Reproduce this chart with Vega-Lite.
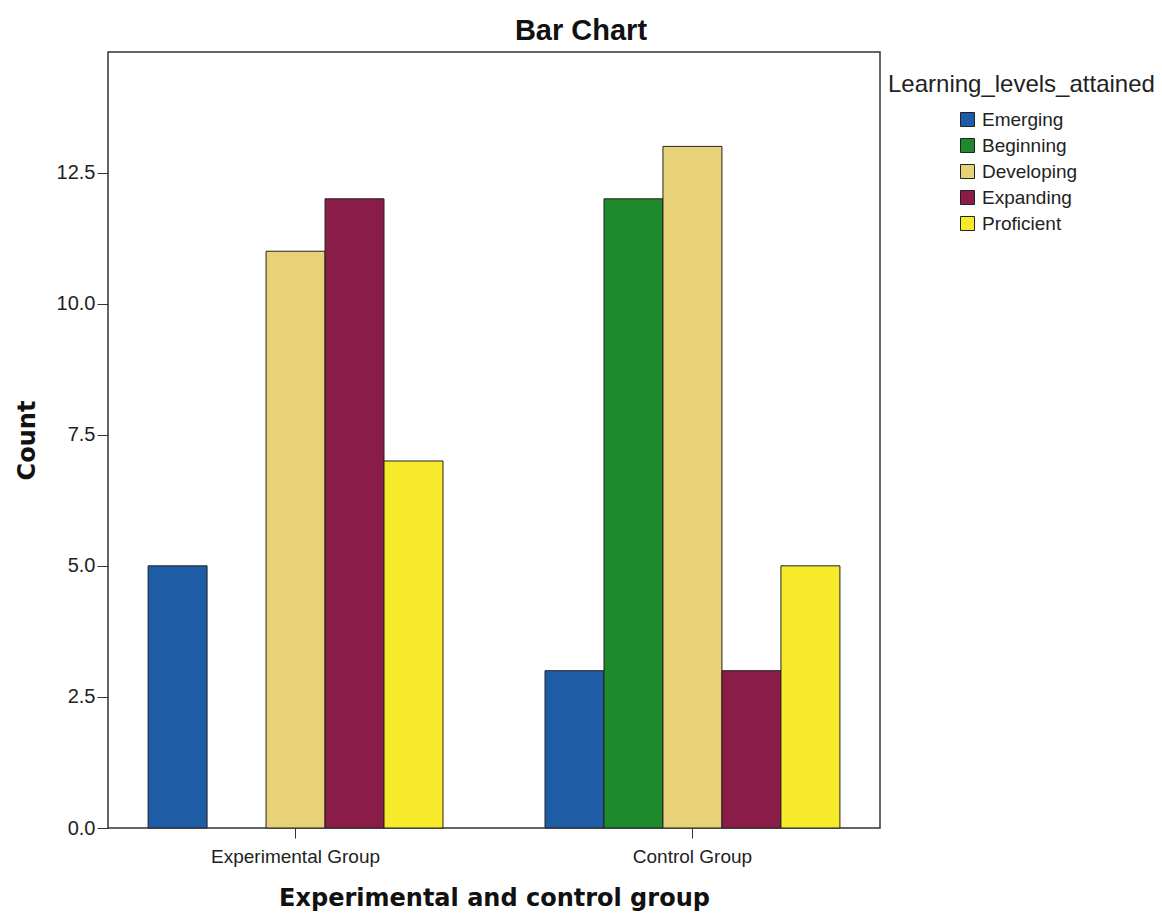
{
  "$schema": "https://vega.github.io/schema/vega-lite/v6.json",
  "width": 772,
  "height": 776,
  "autosize": {"type": "none"},
  "padding": {"left": 108, "top": 52, "right": 282, "bottom": 85},
  "background": "white",
  "config": {
    "font": "Liberation Sans",
    "view": {"stroke": "#333", "strokeWidth": 1.5},
    "axis": {"labelColor": "#222", "titleColor": "#111", "domainColor": "#333", "tickColor": "#333", "grid": false}
  },
  "title": {"text": "Bar Chart", "fontSize": 29, "fontWeight": "bold", "color": "#111", "offset": 6, "anchor": "middle", "dx": 87},
  "data": {
    "values": [
      {"group": "Experimental Group", "level": "Emerging", "count": 5},
      {"group": "Experimental Group", "level": "Developing", "count": 11},
      {"group": "Experimental Group", "level": "Expanding", "count": 12},
      {"group": "Experimental Group", "level": "Proficient", "count": 7},
      {"group": "Control Group", "level": "Emerging", "count": 3},
      {"group": "Control Group", "level": "Beginning", "count": 12},
      {"group": "Control Group", "level": "Developing", "count": 13},
      {"group": "Control Group", "level": "Expanding", "count": 3},
      {"group": "Control Group", "level": "Proficient", "count": 5}
    ]
  },
  "mark": {"type": "bar", "stroke": "#222", "strokeWidth": 1},
  "encoding": {
    "x": {
      "field": "group", "type": "nominal", "sort": ["Experimental Group", "Control Group"],
      "scale": {"paddingInner": 0.257, "paddingOuter": 0.101},
      "axis": {"title": "Experimental and control group", "titleFont": "DejaVu Sans", "titleFontSize": 24, "titleFontWeight": "bold", "titlePadding": 20, "labelFontSize": 19, "labelAngle": 0, "tickSize": 10, "labelPadding": 9, "domain": false}
    },
    "xOffset": {
      "field": "level", "type": "nominal",
      "scale": {"domain": ["Emerging", "Beginning", "Developing", "Expanding", "Proficient"], "paddingInner": 0, "paddingOuter": 0}
    },
    "y": {
      "field": "count", "type": "quantitative",
      "scale": {"domain": [0, 14.8], "nice": false},
      "axis": {"title": "Count", "titleFont": "DejaVu Sans", "titleFontSize": 24, "titleFontWeight": "bold", "titlePadding": 17, "labelFontSize": 20, "format": ".1f", "values": [0, 2.5, 5, 7.5, 10, 12.5], "tickSize": 11, "labelPadding": 2, "domain": false}
    },
    "color": {
      "field": "level", "type": "nominal",
      "scale": {"domain": ["Emerging", "Beginning", "Developing", "Expanding", "Proficient"], "range": ["#1f5ca6", "#1f8a2c", "#e8d277", "#8a1c48", "#f7ea2a"]},
      "legend": {
        "title": "Learning_levels_attained", "orient": "none", "legendX": 780, "legendY": 21,
        "titleFontSize": 24, "titleFontWeight": "normal", "titleColor": "#222", "titleLimit": 400, "titlePadding": 13,
        "labelFontSize": 19, "labelColor": "#222", "symbolType": "square", "symbolSize": 196, "symbolOffset": 70,
        "symbolStrokeColor": "#222", "symbolStrokeWidth": 1, "rowPadding": 6, "labelOffset": 5
      }
    }
  }
}
